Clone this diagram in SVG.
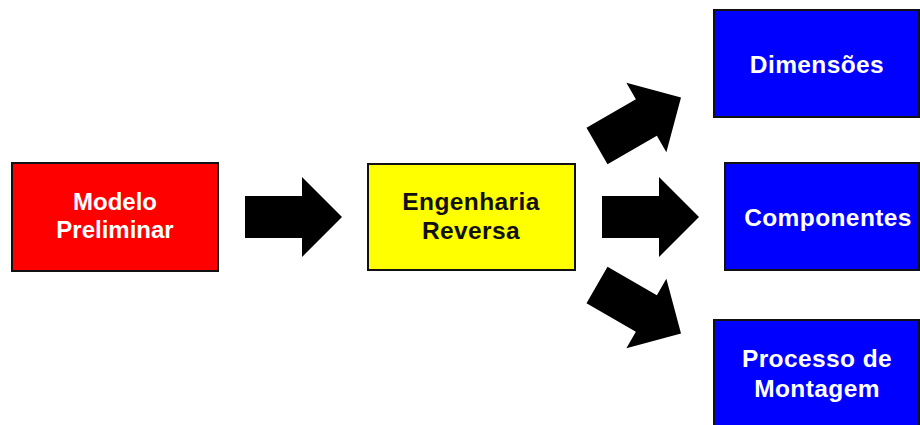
<svg xmlns="http://www.w3.org/2000/svg" width="920" height="425" viewBox="0 0 920 425">
  <style>
    .box { stroke: #111; stroke-width: 2; }
    .lbl { font-family: "Liberation Sans", Arial, sans-serif; font-weight: bold; font-size: 24.5px; letter-spacing: 0.4px; text-anchor: middle; }
    .lbl.small { font-size: 24px; letter-spacing: 0; }
    .light { fill: #ffffff; }
    .dark { fill: #111111; }
    .arrow { fill: #000000; }
  </style>
  <defs>
    <!-- block arrow pointing along +x, tail centred on the origin -->
    <path id="blockArrow" d="M0,-21 L57,-21 L57,-40 L97,0 L57,40 L57,21 L0,21 Z"/>
  </defs>
  <rect width="920" height="425" fill="#ffffff"/>

  <g id="connectors" class="arrow">
    <use href="#blockArrow" transform="translate(245,217)"/>
    <use href="#blockArrow" transform="translate(602,217)"/>
    <use href="#blockArrow" transform="translate(597,146) rotate(-30)"/>
    <use href="#blockArrow" transform="translate(597,285) rotate(30)"/>
  </g>

  <g id="modelo-preliminar">
    <rect class="box" x="12" y="163" width="206" height="108" fill="#ff0000"/>
    <text class="lbl small light" x="115" y="210">Modelo</text>
    <text class="lbl small light" x="115" y="238">Preliminar</text>
  </g>

  <g id="engenharia-reversa">
    <rect class="box" x="368" y="164" width="207" height="106" fill="#ffff00"/>
    <text class="lbl dark" x="471" y="210">Engenharia</text>
    <text class="lbl dark" x="471" y="239">Reversa</text>
  </g>

  <g id="dimensoes">
    <rect class="box" x="714" y="10" width="205" height="107" fill="#0000ff"/>
    <text class="lbl light" x="817" y="73">Dimensões</text>
  </g>

  <g id="componentes">
    <rect class="box" x="725" y="163" width="194" height="107" fill="#0000ff"/>
    <text class="lbl light" x="828" y="226">Componentes</text>
  </g>

  <g id="processo-de-montagem">
    <rect class="box" x="714" y="320" width="205" height="110" fill="#0000ff"/>
    <text class="lbl light" x="817" y="367">Processo de</text>
    <text class="lbl light" x="817" y="397">Montagem</text>
  </g>
</svg>
